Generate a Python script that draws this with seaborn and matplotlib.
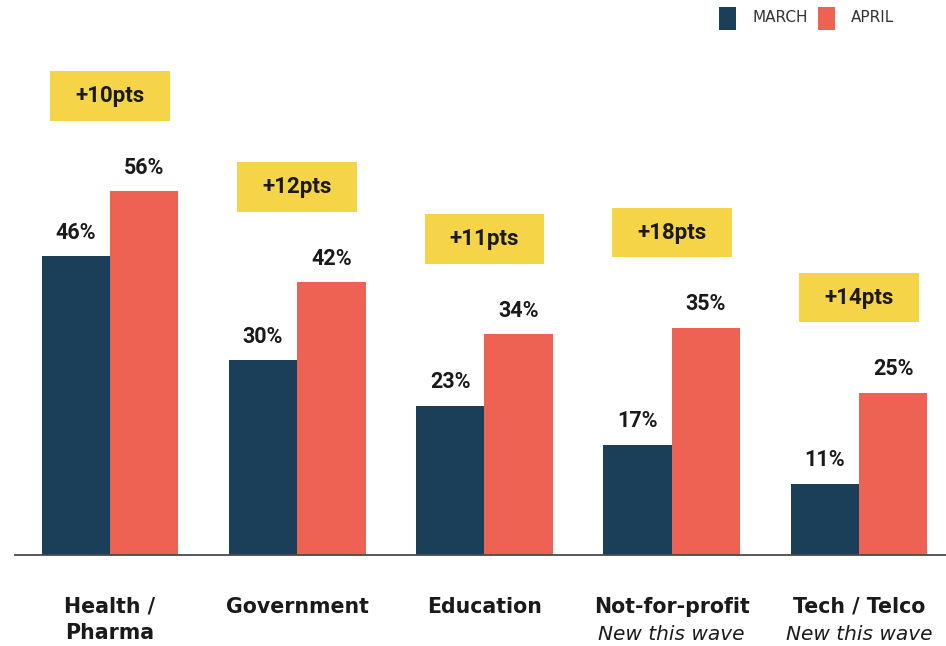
import matplotlib
matplotlib.use("Agg")
import matplotlib.pyplot as plt
import matplotlib.transforms as mtransforms
from matplotlib.patches import Rectangle
import seaborn as sns
import pandas as pd

# Share of respondents per sector, by survey wave
sectors = ["Health /\nPharma", "Government", "Education", "Not-for-profit", "Tech / Telco"]
subtitles = ["", "", "", "New this wave", "New this wave"]
waves = ["MARCH", "APRIL"]
march = [46, 30, 23, 17, 11]
april = [56, 42, 34, 35, 25]
changes = ["+10pts", "+12pts", "+11pts", "+18pts", "+14pts"]

NAVY = "#1B3F58"
CORAL = "#EE6253"
YELLOW = "#F6D448"
INK = "#1a1a1a"

df = pd.DataFrame({
    "sector": sectors * 2,
    "wave": [waves[0]] * len(sectors) + [waves[1]] * len(sectors),
    "share": march + april,
})

sns.set_theme(style="white")
plt.rcParams["font.family"] = ["DejaVu Sans"]

fig = plt.figure(figsize=(9.46, 6.46), dpi=100)
ax = fig.add_axes([15 / 946, 91 / 646, 931 / 946, 555 / 646])

sns.barplot(data=df, x="sector", y="share", hue="wave", order=sectors,
            hue_order=waves, palette=[NAVY, CORAL], width=0.73,
            saturation=1, legend=False, linewidth=0, ax=ax)

ax.set_ylim(0, 85.4)
ax.set_xlim(-0.507, 4.465)
ax.set_xlabel("")
ax.set_ylabel("")
ax.set_yticks([])
ax.set_xticks([])
for side in ["top", "right", "left"]:
    ax.spines[side].set_visible(False)
ax.spines["bottom"].set_color("#4a4a4a")
ax.spines["bottom"].set_linewidth(1.3)

# value labels above each bar
for container in ax.containers:
    ax.bar_label(container, labels=[f"{v:.0f}%" for v in container.datavalues],
                 padding=9, fontsize=15.5, fontweight="bold", color=INK,
                 family="Roboto")

# change badges above each group
for i, (txt, hi) in enumerate(zip(changes, april)):
    yc = hi + 14.6
    h = 7.6
    w = 0.64
    ax.add_patch(Rectangle((i - w / 2, yc - h / 2), w, h, facecolor=YELLOW,
                           edgecolor="none", clip_on=False, zorder=3))
    ax.text(i, yc, txt, ha="center", va="center", fontsize=16,
            fontweight="bold", family="Roboto", color=INK, zorder=4)

# category labels under the axis, one line at a time
trans = mtransforms.blended_transform_factory(ax.transData, fig.transFigure)
for i, (name, sub) in enumerate(zip(sectors, subtitles)):
    lines = name.split("\n")
    for k, line in enumerate(lines):
        ax.text(i, 1 - (607 + 26 * k) / 646, line, transform=trans,
                ha="center", va="center", fontsize=14.8, fontweight="bold",
                color=INK)
    if sub:
        ax.text(i, 1 - 634 / 646, sub, transform=trans, ha="center",
                va="center", fontsize=14.5, style="italic", color=INK)

# legend in the top-right corner
for x0, lab, col in [(719, waves[0], NAVY), (818, waves[1], CORAL)]:
    fig.patches.append(Rectangle((x0 / 946, 1 - 30 / 646), 17 / 946, 23 / 646,
                                 facecolor=col, edgecolor="none",
                                 transform=fig.transFigure))
    fig.text((x0 + 33) / 946, 1 - 18 / 646, lab, ha="left", va="center",
             fontsize=11, color="#333333")

fig.savefig("out.png", dpi=100, facecolor="white")
